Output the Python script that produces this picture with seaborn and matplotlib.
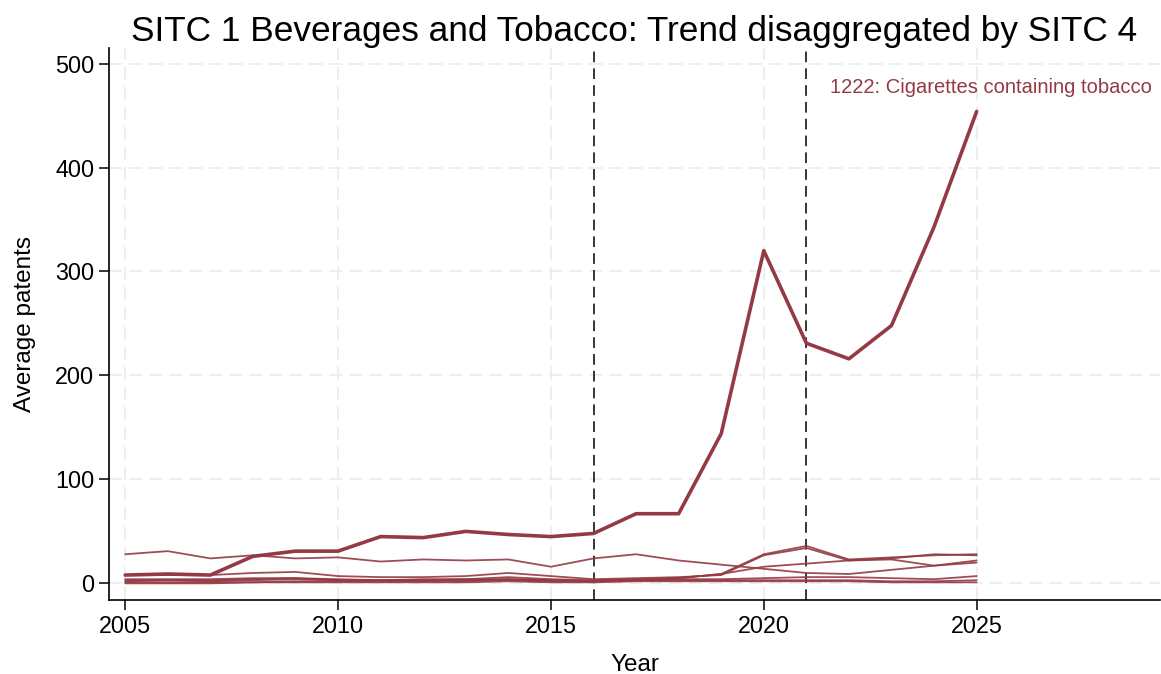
import numpy as np
import pandas as pd
import seaborn as sns
import matplotlib.pyplot as plt

years = list(range(2005, 2026))

# SITC 4 series (average patents)
cigarettes_1222 = [8, 9, 8, 26, 31, 31, 45, 44, 50, 47, 45, 48, 67, 67, 144, 320, 231, 216, 248, 343, 454]
series_a = [28, 31, 24, 27, 24, 25, 21, 23, 22, 23, 16, 24, 28, 22, 18, 14, 10, 9, 13, 17, 22]
series_b = [8, 8, 8, 10, 11, 7, 6, 6, 7, 10, 7, 4, 5, 6, 8, 27, 34, 22, 24, 28, 27]
series_c = [2, 3, 2, 3, 4, 3, 3, 3, 4, 6, 4, 3, 4, 5, 9, 28, 36, 23, 25, 27, 28]
series_d = [4, 4, 4, 5, 5, 4, 3, 4, 4, 4, 3, 2, 3, 5, 9, 16, 19, 22, 23, 17, 20]
series_e = [3, 3, 3, 4, 5, 3, 3, 3, 2, 4, 3, 2, 3, 4, 4, 5, 6, 6, 5, 4, 7]
series_f = [1, 1, 1, 1, 2, 2, 2, 2, 3, 3, 2, 2, 3, 3, 3, 3, 3, 3, 2, 2, 3]
series_g = [0, 0, 0, 1, 1, 1, 1, 1, 1, 2, 1, 1, 2, 2, 2, 2, 2, 2, 1, 1, 1]

others = {"a": series_a, "b": series_b, "c": series_c, "d": series_d,
          "e": series_e, "f": series_f, "g": series_g}
policy_years = [2016, 2021]
label_1222 = "1222: Cigarettes containing tobacco"

color = "#943a44"

df_other = pd.concat([pd.DataFrame({"Year": years, "Average patents": v, "code": k})
                      for k, v in others.items()], ignore_index=True)
df_main = pd.DataFrame({"Year": years, "Average patents": cigarettes_1222})

sns.set_theme(style="white")
plt.rcParams["font.family"] = ["Liberation Sans", "DejaVu Sans"]
plt.rcParams["text.color"] = "black"
plt.rcParams["axes.labelcolor"] = "black"

fig = plt.figure(figsize=(11.61, 6.74), dpi=100)
ax = fig.add_axes([0.0939, 0.1098, 0.905, 0.819])

sns.lineplot(data=df_other, x="Year", y="Average patents", units="code", estimator=None,
             color=color, linewidth=1.3, alpha=0.9, ax=ax)
sns.lineplot(data=df_main, x="Year", y="Average patents", color=color, linewidth=2.6, ax=ax)

for yr in policy_years:
    ax.axvline(yr, color="black", linestyle=(0, (7, 4)), linewidth=1.1, zorder=1)

ax.text(2021.55, 477, label_1222, color=color, fontsize=14.5, ha="left", va="center")

ax.set_xlim(2004.62, 2029.3)
ax.set_ylim(-16, 515)
ax.set_xticks(range(2005, 2026, 5))
ax.set_yticks(range(0, 501, 100))
ax.grid(True, color="#ebebeb", linestyle=(0, (8, 4)), linewidth=1.2)
ax.set_axisbelow(True)

for s in ["top", "right"]:
    ax.spines[s].set_visible(False)
for s in ["left", "bottom"]:
    ax.spines[s].set_color("black")
    ax.spines[s].set_linewidth(1.2)
ax.tick_params(axis="both", direction="out", length=7, width=1.1, color="black",
               labelsize=16.8, labelcolor="black", bottom=True, left=True)

ax.set_xlabel("Year", fontsize=17.5, labelpad=12)
ax.set_ylabel("Average patents", fontsize=17.5, labelpad=14)
ax.set_title("SITC 1 Beverages and Tobacco: Trend disaggregated by SITC 4",
             fontsize=25.4, pad=5, color="black")

plt.savefig("out.png", dpi=100)
